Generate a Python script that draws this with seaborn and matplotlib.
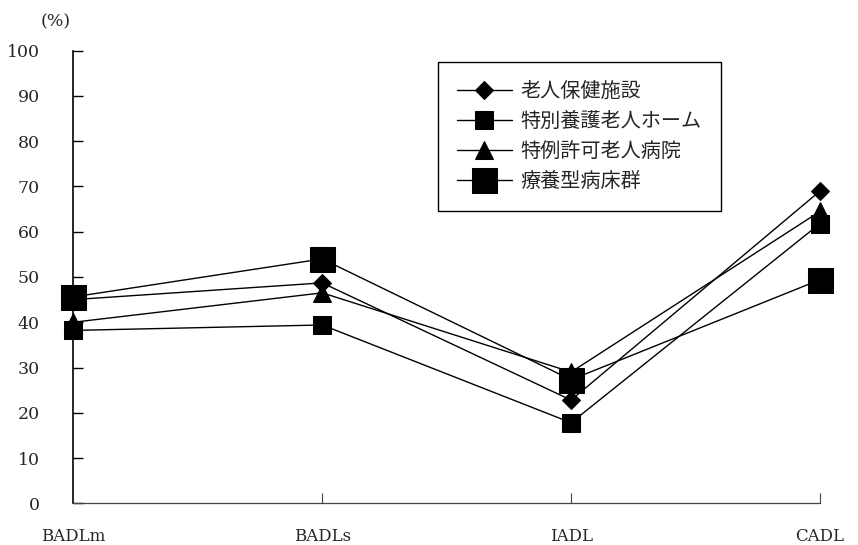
import matplotlib
matplotlib.use("Agg")
import matplotlib.pyplot as plt
import pandas as pd
import seaborn as sns

categories = ["BADLm", "BADLs", "IADL", "CADL"]
series_names = ["老人保健施設", "特別養護老人ホーム", "特例許可老人病院", "療養型病床群"]
rouken = [45.0, 48.7, 22.8, 69.0]
tokuyou = [38.2, 39.4, 17.8, 61.8]
tokurei = [40.0, 46.5, 29.0, 64.5]
ryouyou = [45.6, 54.0, 27.3, 49.4]
y_ticks = [0, 10, 20, 30, 40, 50, 60, 70, 80, 90, 100]

series_values = [rouken, tokuyou, tokurei, ryouyou]
markers = ["D", "s", "^", "s"]
marker_sizes = [9, 13, 13, 18]

sns.set_style("white")
plt.rcParams["font.family"] = ["DejaVu Serif"]

df = pd.DataFrame({
    "category": categories * len(series_names),
    "pos": list(range(len(categories))) * len(series_names),
    "series": [s for s in series_names for _ in categories],
    "value": [v for vals in series_values for v in vals],
})

fig = plt.figure(figsize=(8.58, 5.45), dpi=100)
ax = fig.add_axes([73.3 / 858, 1 - 503.3 / 545, (820 - 73.3) / 858, (503.3 - 50.7) / 545])

for name, mk, ms in zip(series_names, markers, marker_sizes):
    sub = df[df["series"] == name]
    sns.lineplot(data=sub, x="pos", y="value", ax=ax, color="black",
                 linewidth=1.0, marker=mk, markersize=ms, markeredgecolor="black",
                 markerfacecolor="black", label=name, clip_on=False, zorder=3)

ax.set_xlim(0, len(categories) - 1)
ax.set_ylim(0, 100)
ax.set_xticks(range(len(categories)))
ax.set_xticklabels(categories, fontsize=12)
ax.set_yticks(y_ticks)
ax.set_yticklabels([str(t) for t in y_ticks], fontsize=12.5)
ax.set_xlabel("")
ax.set_ylabel("")

ax.tick_params(axis="y", left=True, direction="in", length=7, width=1.0,
               color="black", pad=24)
ax.tick_params(axis="x", bottom=True, direction="in", length=7, width=0.8,
               color="#444444", pad=18)
ax.xaxis.get_majorticklines()[0].set_visible(False)
ax.xaxis.get_majorticklines()[1].set_visible(False)

for side in ["top", "right"]:
    ax.spines[side].set_visible(False)
ax.spines["left"].set_color("black")
ax.spines["left"].set_linewidth(1.2)
ax.spines["bottom"].set_color("#444444")
ax.spines["bottom"].set_linewidth(0.9)

fig.text(56 / 858, 1 - 22 / 545, "(%)", ha="center", va="center", fontsize=12.5,
         family="DejaVu Serif")

leg = ax.legend(loc="upper left", bbox_to_anchor=(438 / 858, 1 - 62 / 545),
                bbox_transform=fig.transFigure, borderaxespad=0,
                prop={"family": ["Noto Sans CJK JP", "DejaVu Sans"], "size": 14.5},
                frameon=True, fancybox=False, handlelength=2.7, handletextpad=0.45,
                labelspacing=0.45, borderpad=0.95)
leg.get_frame().set_edgecolor("black")
leg.get_frame().set_linewidth(1.0)
leg.get_frame().set_facecolor("white")
leg.get_frame().set_alpha(1)

fig.savefig("out.png", dpi=100, facecolor="white")
